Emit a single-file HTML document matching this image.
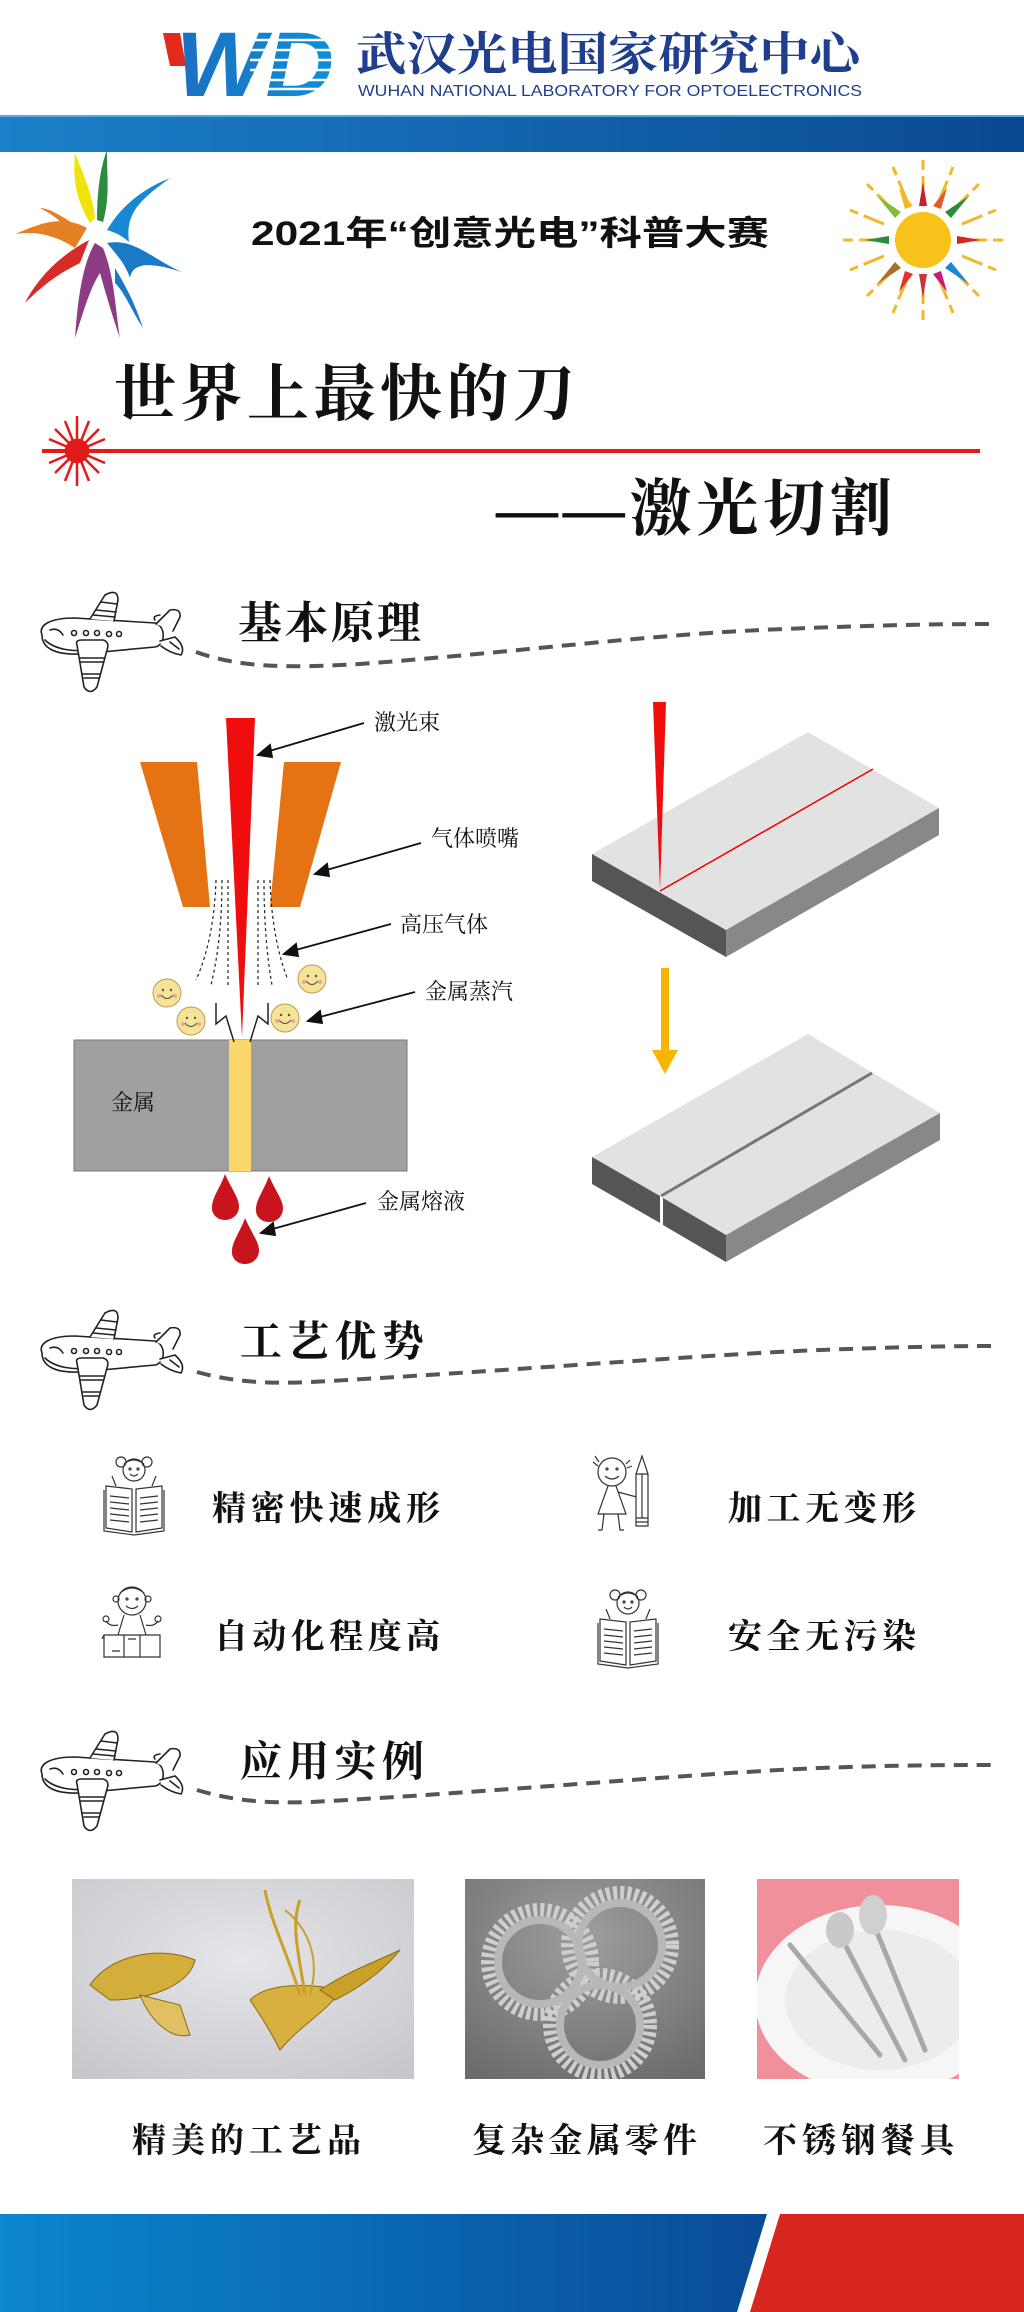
<!DOCTYPE html>
<html><head><meta charset="utf-8"><style>
html,body{margin:0;padding:0;background:#fff}
svg{display:block}
.s{font-family:"Liberation Serif","Noto Serif CJK SC",serif}
.k{font-family:"Liberation Serif","Noto Serif CJK SC",serif;font-weight:700}
</style></head><body>
<svg width="1024" height="2312" viewBox="0 0 1024 2312" xmlns="http://www.w3.org/2000/svg">
<defs>
<clipPath id="c3"><rect x="757" y="1879" width="202" height="200"/></clipPath>
<clipPath id="c2"><rect x="465" y="1879" width="240" height="200"/></clipPath>
<linearGradient id="band" x1="0" x2="1"><stop offset="0" stop-color="#1b80c9"/><stop offset="1" stop-color="#0a4991"/></linearGradient>
<linearGradient id="band2" x1="0" x2="1"><stop offset="0" stop-color="#0b86cf"/><stop offset="1" stop-color="#0a4b97"/></linearGradient>
<linearGradient id="wd" x1="0" x2="1"><stop offset="0" stop-color="#1d6fc0"/><stop offset="1" stop-color="#0d8fd8"/></linearGradient>
<radialGradient id="p1" cx="0.5" cy="0.4" r="0.8"><stop offset="0" stop-color="#e6e6ea"/><stop offset="1" stop-color="#c4c4ca"/></radialGradient>
<radialGradient id="p2" cx="0.5" cy="0.3" r="0.8"><stop offset="0" stop-color="#a09e9c"/><stop offset="1" stop-color="#6e6c6a"/></radialGradient>
<g id="plane" fill="none" stroke="#222" stroke-width="1.6" stroke-linecap="round">
<path d="M12,45 C8,35 20,28 45,28 L125,33 C136,36 136,55 125,57 L50,64 C25,65 12,58 12,45 Z" fill="#fff"/>
<path d="M15,50 C25,60 45,62 60,60"/>
<path d="M20,40 Q28,37 33,45"/>
<circle cx="44" cy="43" r="2.5"/><circle cx="56" cy="43" r="2.5"/><circle cx="67" cy="43" r="2.5"/><circle cx="79" cy="44" r="2.5"/><circle cx="89" cy="44" r="2.5"/>
<path d="M60,29 L75,5 Q88,-2 88,10 L84,31" fill="#fff"/>
<path d="M66,20 L86,22 M63,25 L85,27 M71,12 L87,14"/>
<path d="M47,55 Q45,50 52,50 L73,50 Q80,52 77,60 L67,97 Q60,106 54,97 Z" fill="#fff"/>
<path d="M50,68 L74,68 M51,72 L73,72 M53,84 L70,84 M54,88 L69,88"/>
<path d="M126,34 L140,20 Q151,18 150,27 L143,41" fill="#fff"/>
<path d="M125,30 Q122,26 130,25"/>
<path d="M130,51 L145,47 Q156,57 151,65 Q140,63 131,56" fill="#fff"/>
<path d="M140,52 L149,59"/>
</g>
<g id="bookgirl" fill="none" stroke="#333" stroke-width="1.2">
<circle cx="32" cy="14" r="11" fill="#fff"/>
<path d="M22,8 Q32,0 42,8" /><circle cx="19" cy="6" r="5"/><circle cx="45" cy="6" r="5"/>
<path d="M28,18 Q32,22 36,18"/><circle cx="28" cy="13" r="1"/><circle cx="36" cy="13" r="1"/>
<path d="M10,20 L14,30 M54,20 L50,30"/>
<path d="M4,30 L30,33 L30,76 L4,72 Z M60,30 L34,33 L34,76 L60,72 Z" fill="#fff"/>
<path d="M2,34 L2,75 L32,79 L62,75 L62,34"/>
<path d="M8,40 L27,42 M8,46 L27,48 M8,52 L27,54 M8,58 L27,60 M8,64 L27,66 M38,42 L56,40 M38,48 L56,46 M38,54 L56,52 M38,60 L56,58 M38,66 L56,64"/>
</g>
<g id="penkid" fill="none" stroke="#333" stroke-width="1.2">
<circle cx="22" cy="18" r="14" fill="#fff"/>
<circle cx="17" cy="15" r="1"/><circle cx="27" cy="15" r="1"/><path d="M15,22 Q22,28 29,22"/>
<path d="M3,8 L8,12 M5,2 L9,8 M40,6 L36,10 M42,12 L37,14"/>
<path d="M18,32 L8,60 L36,60 L26,32"/><path d="M14,60 L12,76 L8,76 M28,60 L30,76 L34,76"/><path d="M28,38 L50,44"/>
<path d="M46,20 L52,2 L58,20 L58,72 L46,72 Z" fill="#fff"/><path d="M46,20 L58,20 M46,64 L58,64 M46,68 L58,68 M52,20 L52,64"/>
</g>
<g id="boxkid" fill="none" stroke="#333" stroke-width="1.2">
<circle cx="30" cy="18" r="14" fill="#fff"/><path d="M18,10 Q30,0 42,10"/>
<circle cx="25" cy="16" r="1"/><circle cx="35" cy="16" r="1"/><path d="M24,23 Q30,28 36,23"/>
<circle cx="14" cy="16" r="3"/><circle cx="46" cy="16" r="3"/>
<path d="M4,38 Q8,44 16,42 M56,38 Q52,44 44,42"/><circle cx="4" cy="36" r="3"/><circle cx="56" cy="36" r="3"/>
<path d="M22,32 L16,52 M38,32 L44,52"/>
<path d="M2,52 L58,52 L58,74 L2,74 Z" fill="#fff"/><path d="M0,56 L2,52 M22,52 L22,74 M38,52 L38,74 M26,56 L34,56 M10,68 L18,68"/>
</g>
<g id="smile">
<circle r="14" fill="#f6e39a" stroke="#b8a050" stroke-width="1"/>
<circle cx="-4" cy="-3" r="1.2" fill="#553"/><circle cx="4" cy="-3" r="1.2" fill="#553"/>
<path d="M-6,2 Q0,9 6,2" fill="none" stroke="#553" stroke-width="1"/>
<circle cx="-8" cy="3" r="2" fill="#f0a0a0"/><circle cx="8" cy="3" r="2" fill="#f0a0a0"/>
</g>
<path id="drop" d="M0,-22 C6,-8 14,2 14,10 C14,20 6,24 0,24 C-8,24 -14,18 -13,10 C-12,0 -4,-10 0,-22 Z" fill="#c8141c"/>
</defs>

<polygon points="163,33 180,33 186,66 170,66" fill="#e32a1c"/>
<text x="176" y="96" font-family="Liberation Sans, sans-serif" font-weight="700" font-style="italic" font-size="92" fill="url(#wd)" textLength="158" lengthAdjust="spacingAndGlyphs">WD</text>
<g stroke="#fff" stroke-width="2.5"><line x1="250" y1="40" x2="340" y2="40"/><line x1="250" y1="50" x2="340" y2="50"/><line x1="250" y1="60" x2="340" y2="60"/><line x1="250" y1="70" x2="340" y2="70"/><line x1="250" y1="80" x2="340" y2="80"/><line x1="250" y1="89" x2="340" y2="89"/></g>
<text x="356" y="70" class="k" font-size="46" fill="#1f3f8e" textLength="504" lengthAdjust="spacingAndGlyphs">武汉光电国家研究中心</text>
<text x="358" y="96" font-family="Liberation Sans, sans-serif" font-size="16" fill="#1f3f8e" textLength="504" lengthAdjust="spacingAndGlyphs">WUHAN NATIONAL LABORATORY FOR OPTOELECTRONICS</text>
<rect x="0" y="115" width="1024" height="37" fill="url(#band)"/>
<rect x="0" y="115" width="1024" height="2" fill="#58a8e0"/>

<g transform="translate(95,238)">
<path d="M-5,-15 C-20,-40 -22,-60 -20,-85 C-10,-60 -2,-40 0,-20 Z" fill="#f2e20c"/>
<path d="M2,-18 C2,-45 5,-70 12,-88 C12,-60 15,-40 8,-16 Z" fill="#2a8c3c"/>
<path d="M12,-8 C25,-30 45,-48 75,-60 C45,-38 30,-25 34,4 C25,-4 18,-6 12,-8 Z" fill="#1788d2"/>
<path d="M12,5 C40,0 55,20 87,34 C55,24 38,24 35,40 C30,25 20,15 12,5 Z" fill="#1a7ac8"/>
<path d="M-8,-10 C-35,-25 -60,-12 -80,-4 C-55,-8 -35,0 -20,10 Z" fill="#e68024"/>
<path d="M-12,-8 C-30,-20 -45,-30 -55,-30 C-40,-22 -30,-15 -25,0 Z" fill="#e68024"/>
<path d="M-6,2 C-40,20 -60,45 -70,65 C-50,45 -35,35 -15,25 Z" fill="#d82a26"/>
<path d="M0,5 C-15,30 -18,75 -20,100 C-12,75 -5,50 5,35 C12,60 18,80 25,100 C20,70 20,40 8,10 Z" fill="#8c3c84"/>
<path d="M20,30 C35,55 42,72 48,90 C35,70 30,55 20,45 Z" fill="#1a7ac8"/>
</g>

<text x="510" y="245" text-anchor="middle" font-family="Liberation Sans, Noto Sans CJK SC, sans-serif" font-weight="700" font-size="34" fill="#111" textLength="518" lengthAdjust="spacingAndGlyphs">2021年“创意光电”科普大赛</text>

<g transform="translate(923,240)">
<g stroke="#f2b82a" stroke-width="3" stroke-dasharray="22 6">
<line x1="0" y1="-42" x2="0" y2="-80"/><line x1="0" y1="42" x2="0" y2="80"/><line x1="-42" y1="0" x2="-80" y2="0"/><line x1="42" y1="0" x2="80" y2="0"/>
<line x1="30" y1="-30" x2="56" y2="-56"/><line x1="-30" y1="-30" x2="-56" y2="-56"/><line x1="30" y1="30" x2="56" y2="56"/><line x1="-30" y1="30" x2="-56" y2="56"/>
<line x1="16" y1="-39" x2="30" y2="-73"/><line x1="-16" y1="-39" x2="-30" y2="-73"/><line x1="16" y1="39" x2="30" y2="73"/><line x1="-16" y1="39" x2="-30" y2="73"/>
<line x1="39" y1="-16" x2="73" y2="-30"/><line x1="-39" y1="-16" x2="-73" y2="-30"/><line x1="39" y1="16" x2="73" y2="30"/><line x1="-39" y1="16" x2="-73" y2="30"/>
</g>
<g>
<polygon points="-4,-34 4,-34 0,-58" fill="#c8202c"/><polygon points="-4,34 4,34 0,58" fill="#d0303c"/>
<polygon points="-34,-4 -34,4 -58,0" fill="#2a8c3c"/><polygon points="34,-4 34,4 58,0" fill="#d42828"/>
<polygon points="22,-28 28,-22 46,-44" fill="#2a8c3c"/><polygon points="-22,-28 -28,-22 -46,-44" fill="#8ab83a"/>
<polygon points="22,28 28,22 46,44" fill="#1788d2"/><polygon points="-22,28 -28,22 -46,44" fill="#a8702a"/>
<polygon points="10,-34 18,-31 24,-52" fill="#e45a2a"/><polygon points="-10,-34 -18,-31 -24,-52" fill="#f2b82a"/>
<polygon points="10,34 18,31 24,52" fill="#c81a7a"/><polygon points="-10,34 -18,31 -24,52" fill="#e8302a"/>
</g>
<circle r="28" fill="#f7c219"/>
</g>

<text x="114" y="415" class="k" font-size="62" fill="#111" textLength="461" lengthAdjust="spacing">世界上最快的刀</text>
<rect x="42" y="449" width="938" height="4" fill="#e31a1a"/>
<g transform="translate(77,451)" stroke="#e31a1a" stroke-width="2.5">
<circle r="11" fill="#e31a1a"/>
<line x1="0" y1="-35" x2="0" y2="35"/><line x1="-28" y1="0" x2="28" y2="0"/>
<line x1="-22" y1="-22" x2="22" y2="22"/><line x1="22" y1="-22" x2="-22" y2="22"/>
<line x1="-12" y1="-30" x2="12" y2="30"/><line x1="12" y1="-30" x2="-12" y2="30"/>
<line x1="-28" y1="-12" x2="28" y2="12"/><line x1="28" y1="-12" x2="-28" y2="12"/>
</g>
<text x="496" y="530" class="k" font-size="62" fill="#111" textLength="396" lengthAdjust="spacing">——激光切割</text>

<use href="#plane" x="30" y="590"/>
<text x="238" y="638" class="k" font-size="44" fill="#111" textLength="183" lengthAdjust="spacing">基本原理</text>
<path d="M196,652 C240,668 290,668 360,664 C520,652 650,634 784,629 C880,625 940,624 990,624" fill="none" stroke="#555" stroke-width="4" stroke-dasharray="14 9"/>

<polygon points="140,762 197,762 210,907 183,907" fill="#e67313"/>
<polygon points="284,762 341,762 300,907 270,907" fill="#e67313"/>
<g fill="none" stroke="#222" stroke-width="1.2" stroke-dasharray="3 3">
<path d="M216,880 Q214,940 196,980"/><path d="M222,880 Q222,940 211,985"/><path d="M228,880 L228,985"/>
<path d="M258,880 L258,985"/><path d="M264,880 Q264,940 272,985"/><path d="M270,880 Q272,940 288,980"/>
</g>
<rect x="74" y="1040" width="333" height="131" fill="#a0a0a0" stroke="#777" stroke-width="1"/>
<rect x="229" y="1040" width="22" height="131" fill="#fcd86a"/>
<polygon points="226,718 255,718 242,1037" fill="#f00d0d"/>
<g fill="none" stroke="#222" stroke-width="1.5">
<polyline points="216,1003 216,1024 226,1016 234,1042"/><polyline points="268,1003 268,1024 258,1016 250,1042"/>
</g>
<text x="111" y="1110" class="s" font-size="22" fill="#111">金属</text>
<use href="#smile" x="167" y="993"/><use href="#smile" x="191" y="1021"/><use href="#smile" x="312" y="979"/><use href="#smile" x="285" y="1018"/>
<use href="#drop" x="225" y="1196"/><use href="#drop" x="269" y="1198"/><use href="#drop" x="245" y="1240"/>
<g stroke="#111" stroke-width="1.8" fill="#111">
<line x1="364" y1="723" x2="266" y2="752"/><polygon points="258,755 270,745 272,757"/>
<line x1="421" y1="843" x2="323" y2="871"/><polygon points="315,874 327,864 329,876"/>
<line x1="391" y1="924" x2="292" y2="951"/><polygon points="284,954 296,944 298,956"/>
<line x1="415" y1="992" x2="316" y2="1018"/><polygon points="308,1021 320,1011 322,1023"/>
<line x1="366" y1="1203" x2="269" y2="1230"/><polygon points="261,1233 273,1223 275,1235"/>
</g>
<g class="s" font-size="22" fill="#111">
<text x="374" y="730">激光束</text><text x="431" y="846">气体喷嘴</text><text x="400" y="932">高压气体</text><text x="425" y="999">金属蒸汽</text><text x="377" y="1209">金属熔液</text>
</g>

<polygon points="592,854 808,732 939,808 726,930" fill="#e2e2e2"/>
<polygon points="592,854 726,930 726,957 592,881" fill="#555"/>
<polygon points="726,930 939,808 939,835 726,957" fill="#888"/>
<line x1="660" y1="891" x2="873" y2="769" stroke="#e00" stroke-width="1.5"/>
<polygon points="653,702 666,702 660,890" fill="#f00d0d"/>
<rect x="661" y="968" width="8" height="84" fill="#f7b500"/>
<polygon points="652,1050 678,1050 665,1074" fill="#f7b500"/>
<polygon points="592,1157 808,1034 940,1113 726,1235" fill="#e2e2e2"/>
<polygon points="592,1157 660,1196 660,1223 592,1184" fill="#555"/>
<polygon points="663,1198 726,1235 726,1262 663,1225" fill="#555"/>
<polygon points="726,1235 940,1113 940,1140 726,1262" fill="#888"/>
<line x1="661" y1="1196" x2="872" y2="1073" stroke="#777" stroke-width="3"/>
<line x1="661" y1="1196" x2="661" y2="1224" stroke="#fff" stroke-width="1.5"/>

<use href="#plane" x="30" y="1308"/>
<text x="240" y="1356" class="k" font-size="42" fill="#111" textLength="184" lengthAdjust="spacing">工艺优势</text>
<path d="M197,1372 C240,1384 280,1384 330,1381 C520,1370 700,1355 820,1350 C900,1347 950,1346 993,1346" fill="none" stroke="#555" stroke-width="4" stroke-dasharray="14 9"/>
<use href="#bookgirl" x="102" y="1456"/>
<use href="#penkid" x="590" y="1454"/>
<use href="#boxkid" x="102" y="1583"/>
<use href="#bookgirl" x="596" y="1589"/>
<g class="k" font-size="34" fill="#111">
<text x="212" y="1520" textLength="228" lengthAdjust="spacing">精密快速成形</text>
<text x="728" y="1520" textLength="188" lengthAdjust="spacing">加工无变形</text>
<text x="214" y="1648" textLength="226" lengthAdjust="spacing">自动化程度高</text>
<text x="728" y="1648" textLength="188" lengthAdjust="spacing">安全无污染</text>
</g>

<use href="#plane" x="30" y="1729"/>
<text x="240" y="1776" class="k" font-size="42" fill="#111" textLength="184" lengthAdjust="spacing">应用实例</text>
<path d="M197,1790 C240,1803 280,1804 330,1801 C520,1790 700,1773 820,1768 C900,1765 950,1765 993,1765" fill="none" stroke="#555" stroke-width="4" stroke-dasharray="14 9"/>

<rect x="72" y="1879" width="342" height="200" fill="url(#p1)"/>
<g fill="#c9a028" stroke="#8a6a10" stroke-width="1">
<path d="M90,1985 C110,1955 160,1945 195,1960 C190,1985 150,2000 110,2000 Z" fill="#d4ae3a"/>
<path d="M140,1995 C150,2020 170,2040 190,2035 L180,2005 Z" fill="#e0c060"/>
<path d="M250,2000 C270,1980 320,1985 340,1990 C330,2010 300,2025 280,2050 C270,2030 260,2015 250,2000 Z" fill="#d8b040"/>
<path d="M320,1990 C350,1970 380,1960 400,1950 C380,1975 355,1990 335,2000 Z" fill="#c9a028"/>
<path d="M300,1995 C290,1960 270,1920 265,1890" fill="none" stroke="#c9a028" stroke-width="3"/>
<path d="M305,1995 C300,1960 290,1925 300,1900" fill="none" stroke="#c9a028" stroke-width="3"/>
<path d="M310,1995 C320,1960 310,1930 285,1910" fill="none" stroke="#c9a028" stroke-width="2"/>
</g>
<rect x="465" y="1879" width="240" height="200" fill="url(#p2)"/>
<g clip-path="url(#c2)">
<g fill="none" stroke="#cfcfcf" stroke-width="14" stroke-dasharray="4 3">
<circle cx="540" cy="1962" r="52"/><circle cx="620" cy="1945" r="52"/><circle cx="600" cy="2025" r="50"/>
</g>
<g fill="none" stroke="#b8b8b8" stroke-width="8">
<circle cx="540" cy="1962" r="42"/><circle cx="620" cy="1945" r="42"/><circle cx="600" cy="2025" r="40"/>
</g>
</g>
<rect x="757" y="1879" width="202" height="200" fill="#f0909a"/>
<g clip-path="url(#c3)">
<ellipse cx="880" cy="2000" rx="125" ry="95" fill="#f6f6f6"/>
<ellipse cx="880" cy="2000" rx="95" ry="70" fill="#ececec"/>
<g stroke="#a8a8a8" stroke-width="5" stroke-linecap="round">
<line x1="790" y1="1945" x2="880" y2="2055"/><line x1="840" y1="1935" x2="905" y2="2060"/><line x1="872" y1="1920" x2="925" y2="2050"/>
</g>
<ellipse cx="840" cy="1930" rx="14" ry="18" fill="#c8c8c8"/><ellipse cx="873" cy="1915" rx="14" ry="20" fill="#d0d0d0"/>
</g>
<g class="k" font-size="34" fill="#111">
<text x="132" y="2152" textLength="229" lengthAdjust="spacing">精美的工艺品</text>
<text x="472" y="2152" textLength="225" lengthAdjust="spacing">复杂金属零件</text>
<text x="763" y="2152" textLength="191" lengthAdjust="spacing">不锈钢餐具</text>
</g>

<polygon points="0,2214 767,2214 737,2312 0,2312" fill="url(#band2)"/>
<polygon points="780,2214 1024,2214 1024,2312 750,2312" fill="#d8261e"/>
</svg>
</body></html>
